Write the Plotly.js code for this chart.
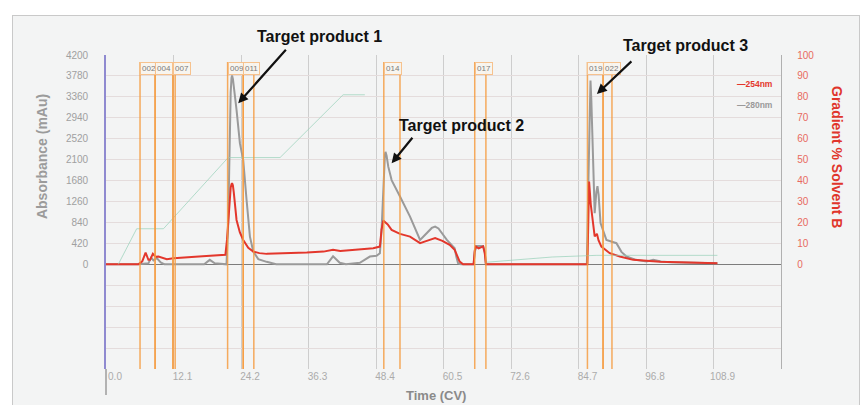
<!DOCTYPE html>
<html>
<head>
<meta charset="utf-8">
<script src="https://cdn.plot.ly/plotly-3.0.1.min.js"></script>
<style>
  html, body { margin:0; padding:0; background:#ffffff; width:868px; height:405px; overflow:hidden; }
  #frame { position:absolute; left:12px; top:15px; width:848px; height:400px; background:#f3f4f4; border:1.5px solid #c9c9c9; box-sizing:border-box; }
  #chart { position:absolute; left:0; top:0; width:868px; height:405px; }
</style>
</head>
<body>
<div id="frame"></div>
<div id="chart"></div>
<script>
// ---------- data ----------
const seriesNames = ["254nm", "280nm"];

const time280 = [0,5.8,7.6,8.1,8.5,9.1,9.8,10.5,17.6,18.6,19.5,21.6,21.9,22.2,22.35,22.5,22.6,22.75,22.9,23.4,24.0,24.6,25.2,25.8,26.4,27.3,28.8,30.5,
  39.6,40.7,41.9,43,45.5,47.3,48.5,49.1,49.4,49.8,50.0,50.1,50.3,50.6,51.2,52.7,54.5,56.3,57.5,58.4,59.0,59.6,61.1,62.5,62.8,63.1,63.6,
  65.9,66.1,66.4,67.6,67.9,68.1,86.2,86.5,86.75,86.85,87.0,87.2,87.6,87.9,88.1,88.3,88.65,89.7,91.5,92.4,93.3,95,96.9,98.1,99.5,101.1,105,109.6];
const abs280 = [0,0,20,136,80,124,40,0,0,90,20,0,800,2800,3450,3740,3790,3720,3600,3100,2430,2090,1290,556,256,104,50,0,
  0,160,30,0,30,156,170,224,700,1900,2200,2256,2180,1960,1690,1360,958,490,625,730,758,720,490,324,150,24,0,
  0,250,370,370,250,0,0,1800,3600,3686,3300,2400,1026,1450,1570,1400,826,490,424,250,156,90,56,90,55,44,30,24];

const time254 = [0,5.8,6.5,7.1,7.6,7.9,8.4,8.9,9.4,10.9,12.1,14,16,18,20,21.4,21.7,22.1,22.35,22.5,22.6,22.75,22.9,23.4,24.0,24.6,25.5,26.4,27.5,28.8,
  32,36,39,40.7,42,45.5,47.9,49.1,49.4,49.7,50.5,51.2,52.7,54.5,56.3,57.5,59.0,60.3,61.6,62.5,63.0,63.4,64,
  65.9,66.1,66.3,66.8,67.3,67.6,67.9,68.1,86.3,86.45,86.6,86.9,87.3,87.6,88.0,88.3,88.8,90.3,92.1,94.5,99.3,104,109.6];
const abs254 = [0,0,60,236,90,90,210,150,156,104,124,130,150,165,180,190,500,1250,1540,1610,1628,1580,1450,890,640,490,330,256,225,210,
  215,235,255,290,270,300,324,356,700,878,800,690,610,556,424,470,525,470,390,290,150,56,0,
  0,280,356,320,340,360,220,0,0,1000,1660,1200,758,560,612,480,357,224,156,90,50,30,20];

const timeGrad = [2.2,5.5,10.3,21.9,31.2,42.5,46.4,null,68.2,80,88,109.6];
const solventB = [0,17,17,51,51,81,81,null,1,3.5,4.3,4.3];

const fracNames = ["002","004","007","009","011","014","017","019","022"];
const fracStart = [6.1,8.8,12.0,21.8,24.6,49.8,66.1,86.3,89.1];
const fracEnd   = [8.8,12.0,12.4,24.6,26.5,52.7,68.1,89.1,90.7];

const xTickVals = [0,12.1,24.2,36.3,48.4,60.5,72.6,84.7,96.8,108.9];
const yTickVals = [0,420,840,1260,1680,2100,2520,2940,3360,3780,4200];
const yGridBelow = [-420,-840,-1260,-1680];
const y2TickVals = [0,10,20,30,40,50,60,70,80,90,100];

const targetLabels = ["Target product 1","Target product 2","Target product 3"];
// arrow heads (data coords next to each peak)
const arrowX = [23.7, 51.2, 88.0];
const arrowY = [3232, 2029, 3418];

// ---------- styles ----------
const FONT = "Liberation Sans, Arial, Helvetica, sans-serif";
const RED = "#e3372c", GRAY = "#9a9a9a", GREEN = "rgba(150,208,184,0.7)";
const ORANGE = "rgba(244,156,66,0.85)";
const colors = [RED, GRAY];

const traces = [
  { x: timeGrad, y: solventB, yaxis: "y2", mode: "lines", name: "Gradient", connectgaps: false,
    line: { color: GREEN, width: 1 }, hoverinfo: "skip" },
  { x: time280, y: abs280, mode: "lines", name: seriesNames[1], line: { color: GRAY, width: 2 } },
  { x: time254, y: abs254, mode: "lines", name: seriesNames[0], line: { color: RED, width: 2 } }
];

// fraction marker lines
const shapes = [];
const boxTop = 0.978;
for (let i = 0; i < fracNames.length; i++) {
  [fracStart[i], fracEnd[i]].forEach(v => shapes.push({
    type: "line", xref: "x", yref: "paper", x0: v, x1: v, y0: 0, y1: boxTop,
    line: { color: ORANGE, width: 1.5 }, layer: "above"
  }));
}
// small gray stub under the left axis
shapes.push({ type: "line", xref: "paper", yref: "paper", x0: 0, x1: 0, y0: 0, y1: -0.083,
  line: { color: "#9c9c9c", width: 1.5 } });

const annotations = [];
for (let i = 0; i < fracNames.length; i++) {
  annotations.push({
    text: fracNames[i], xref: "x", yref: "paper", x: fracStart[i], y: boxTop,
    xanchor: "left", yanchor: "top", showarrow: false,
    font: { family: FONT, size: 8, color: "#7a7a7a" },
    bordercolor: "#f6c28e", borderwidth: 1, borderpad: 1, bgcolor: "rgba(248,244,238,0.95)"
  });
}
const labelPos = [[0.317, 1.0605], [0.5274, 0.777], [0.8578, 1.0287]];
const arrowOff = [[49, -55], [22, -27], [36, -34]];
for (let i = 0; i < targetLabels.length; i++) {
  annotations.push({
    text: "<b>" + targetLabels[i] + "</b>", xref: "paper", yref: "paper",
    x: labelPos[i][0], y: labelPos[i][1], xanchor: "center", yanchor: "middle",
    showarrow: false, font: { family: FONT, size: 16, color: "#111" }
  });
  annotations.push({
    text: "", xref: "x", yref: "y", x: arrowX[i], y: arrowY[i],
    ax: arrowOff[i][0], ay: arrowOff[i][1], showarrow: true,
    arrowhead: 2, arrowsize: 0.9, arrowwidth: 2.2, arrowcolor: "#111"
  });
}
// legend text
for (let i = 0; i < seriesNames.length; i++) {
  annotations.push({
    text: "<b>\u2014" + seriesNames[i] + "</b>", xref: "paper", yref: "paper",
    x: (775 - 106) / 675, y: (369 - (84 + 21 * i)) / 314, xanchor: "right", yanchor: "middle",
    showarrow: false, font: { family: FONT, size: 8.5, color: colors[i] }
  });
}
// axis titles
annotations.push({ text: "<b>Absorbance (mAu)</b>", xref: "paper", yref: "paper", x: -0.0948, y: 0.675,
  textangle: -90, showarrow: false, xanchor: "center", yanchor: "middle",
  font: { family: FONT, size: 14, color: "#9b9b9b" } });
annotations.push({ text: "<b>Gradient % Solvent B</b>", xref: "paper", yref: "paper", x: 1.083, y: 0.675,
  textangle: 90, showarrow: false, xanchor: "center", yanchor: "middle",
  font: { family: FONT, size: 14, color: "#e0352b" } });
annotations.push({ text: "<b>Time (CV)</b>", xref: "paper", yref: "paper", x: (436 - 106) / 675, y: -0.083,
  showarrow: false, xanchor: "center", yanchor: "middle",
  font: { family: FONT, size: 13, color: "#8a8a8a" } });

const layout = {
  width: 868, height: 405,
  margin: { l: 106, r: 87, t: 55, b: 36 },
  paper_bgcolor: "rgba(0,0,0,0)", plot_bgcolor: "rgba(0,0,0,0)",
  showlegend: false,
  font: { family: FONT },
  xaxis: {
    range: [0, 121], tickvals: xTickVals, ticktext: xTickVals.map(v => v.toFixed(1)),
    showgrid: true, gridcolor: "#cdcdcd", gridwidth: 1, zeroline: false, showline: false,
    ticks: "", ticklabelshift: 9, tickfont: { family: FONT, size: 10, color: "#ababab" }
  },
  yaxis: {
    range: [-2100, 4200], tickvals: yGridBelow.concat(yTickVals),
    ticktext: yGridBelow.map(() => "").concat(yTickVals.map(String)),
    showgrid: true, gridcolor: "#e4dcdc", gridwidth: 1,
    zeroline: true, zerolinecolor: "#7c7c7c", zerolinewidth: 1.5,
    showline: true, linecolor: "#8f8ad0", linewidth: 1.8,
    ticks: "outside", ticklen: 14, tickcolor: "rgba(0,0,0,0)",
    tickfont: { family: FONT, size: 10, color: "#a0a0a0" }
  },
  yaxis2: {
    overlaying: "y", side: "right", range: [-50, 100], tickvals: y2TickVals,
    showgrid: false, zeroline: false, showline: true, linecolor: "#b0b0b0", linewidth: 1.2,
    ticks: "outside", ticklen: 13, tickcolor: "rgba(0,0,0,0)",
    tickfont: { family: FONT, size: 10, color: "#e86a60" }
  },
  shapes: shapes,
  annotations: annotations
};

Plotly.newPlot("chart", traces, layout, { staticPlot: true, displayModeBar: false });
</script>
</body>
</html>
